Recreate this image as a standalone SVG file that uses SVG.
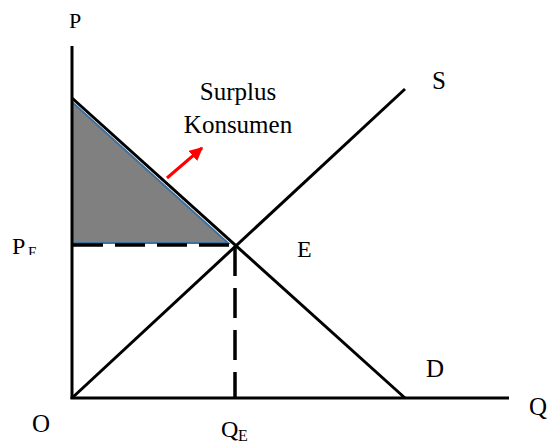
<svg xmlns="http://www.w3.org/2000/svg" width="550" height="443" viewBox="0 0 550 443">
<style>
.ln{stroke:#000;stroke-width:3;fill:none;stroke-linecap:butt}
.dash{stroke:#000;stroke-width:3.5;fill:none;stroke-dasharray:30 12}
</style>
<defs>
<marker id="ah" viewBox="0 0 10 10" refX="9" refY="5" markerWidth="4.5" markerHeight="4.5" orient="auto" markerUnits="strokeWidth">
<path d="M0,0 L10,5 L0,10 z" fill="#ff0000"/>
</marker>
<clipPath id="cpe"><rect x="0" y="0" width="60" height="255"/></clipPath>
</defs>
<rect width="550" height="443" fill="#fff"/>
<g id="surplus-area">
<polygon points="72,102 72,243 228,243" fill="#808080" stroke="#41719C" stroke-width="2"/>
</g>
<g id="connectors">
<line class="ln" x1="72" y1="46" x2="72" y2="399"/>
<line class="ln" x1="70.5" y1="398" x2="509" y2="398"/>
<line class="ln" x1="72" y1="98" x2="405" y2="398"/>
<line class="ln" x1="72" y1="398" x2="405" y2="89"/>
<line class="dash" x1="73" y1="245" x2="235" y2="245"/>
<line class="dash" x1="235" y1="246" x2="235" y2="398"/>
<line x1="167" y1="178" x2="202" y2="148" stroke="#ff0000" stroke-width="3" marker-end="url(#ah)"/>
</g>
<g id="labels" font-family="Liberation Serif, Times New Roman, serif" fill="#000">
<text x="75" y="28" font-size="22" text-anchor="middle">P</text>
<text x="238" y="100" font-size="25" text-anchor="middle">Surplus</text>
<text x="238" y="133" font-size="25" text-anchor="middle">Konsumen</text>
<text x="432" y="89" font-size="25">S</text>
<text x="426" y="377" font-size="25">D</text>
<text x="529" y="415" font-size="25">Q</text>
<text x="297" y="257" font-size="24">E</text>
<text x="32" y="432" font-size="25">O</text>
<text x="12" y="254" font-size="24">P</text>
<text x="28" y="257" font-size="15" clip-path="url(#cpe)">E</text>
<text x="221" y="437" font-size="24">Q</text>
<text x="238" y="441" font-size="16">E</text>
</g>
</svg>
